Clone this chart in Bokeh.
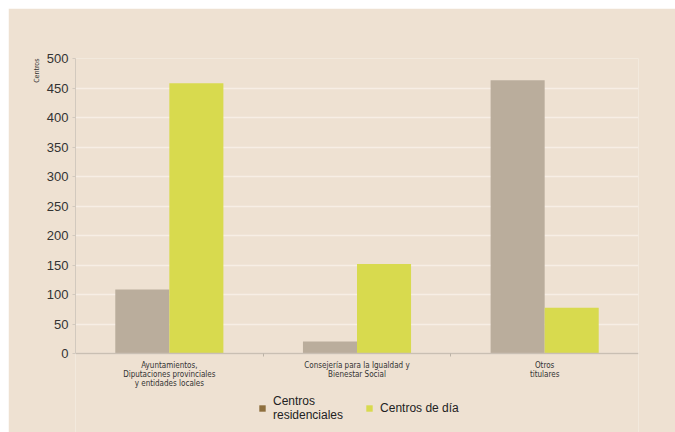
from bokeh.plotting import figure
from bokeh.models import ColumnDataSource, FixedTicker, Legend, LegendItem, Title
from bokeh.transform import dodge
from bokeh.embed import file_html
from bokeh.resources import INLINE

categories = ["Ayuntamientos,\nDiputaciones provinciales\ny entidades locales",
              "Consejería para la Igualdad y\nBienestar Social",
              "Otros\ntitulares"]
residenciales = [109, 21, 463]
dia = [458, 152, 78]
series_labels = ["Centros\nresidenciales", "Centros de día"]
y_ticks = [0, 50, 100, 150, 200, 250, 300, 350, 400, 450, 500]

BG = "#EEE1D2"
xpos = [i + 0.5 for i in range(len(categories))]
src = ColumnDataSource(dict(x=xpos, res=residenciales, dia=dia))

p = figure(width=667, height=424, output_backend="svg", toolbar_location=None,
           x_range=(0, 3), y_range=(-133, 500),
           min_border_left=67, min_border_right=37, min_border_top=50, min_border_bottom=0)
p.margin = (8, 0, 0, 8)
p.background_fill_color = BG
p.border_fill_color = BG
p.outline_line_color = None

p.vbar(x=dodge("x", -0.144), top="res", width=0.288, source=src,
       fill_color="#BAAD9C", line_color=None)
p.vbar(x=dodge("x", 0.144), top="dia", width=0.288, source=src,
       fill_color="#D8DA4E", line_color=None)

# legend proxies (outside the x range, only their legend swatches show)
r1 = p.quad(left=[-10], right=[-9], bottom=[0], top=[1], fill_color="#8E6F3E", line_color=None)
r2 = p.quad(left=[-10], right=[-9], bottom=[0], top=[1], fill_color="#D8DA4E", line_color=None)
legend = Legend(items=[LegendItem(label=series_labels[0], renderers=[r1]),
                       LegendItem(label=series_labels[1], renderers=[r2])],
                orientation="horizontal", location=(183, 10),
                background_fill_alpha=0, border_line_color=None,
                label_text_font="Liberation Sans", label_text_font_size="12px",
                label_text_color="#222222", glyph_width=8, glyph_height=8,
                spacing=22, padding=0, margin=0, label_standoff=7)
p.add_layout(legend, "center")

p.add_layout(Title(text="Centros", align="right", text_font="DejaVu Sans Condensed",
                   text_font_size="7px", text_font_style="normal",
                   text_color="#333333", standoff=6), "left")

# x axis at y = 0
p.xaxis.fixed_location = 0
p.xaxis.ticker = FixedTicker(ticks=xpos, minor_ticks=[1, 2])
p.xaxis.major_label_overrides = {xpos[i]: categories[i] for i in range(len(categories))}
p.xaxis.major_tick_line_color = None
p.xaxis.minor_tick_line_color = "#BBB2A6"
p.xaxis.minor_tick_in = 0
p.xaxis.minor_tick_out = 3
p.xaxis.axis_line_color = "#C9BFB3"
p.xaxis.axis_line_width = 1.5
p.xaxis.major_label_text_font = "DejaVu Sans Condensed"
p.xaxis.major_label_text_font_size = "8px"
p.xaxis.major_label_text_line_height = 1.0
p.xaxis.major_label_text_color = "#333333"
p.xaxis.major_label_standoff = 1
p.xgrid.grid_line_color = None

# y axis
p.yaxis.bounds = (0, 500)
p.yaxis.ticker = FixedTicker(ticks=y_ticks)
p.yaxis.axis_line_color = "#D2C9BE"
p.yaxis.major_tick_line_color = "#D2C9BE"
p.yaxis.major_tick_in = 0
p.yaxis.major_tick_out = 3
p.yaxis.minor_tick_line_color = None
p.yaxis.major_label_text_font = "Liberation Sans"
p.yaxis.major_label_text_font_size = "13px"
p.yaxis.major_label_text_color = "#333333"
p.yaxis.major_label_standoff = 4
p.ygrid.grid_line_color = "#F7EEE5"
p.ygrid.grid_line_width = 1.5
p.ygrid.bounds = (0, 500)

open("out.html", "w").write(file_html(p, INLINE))
